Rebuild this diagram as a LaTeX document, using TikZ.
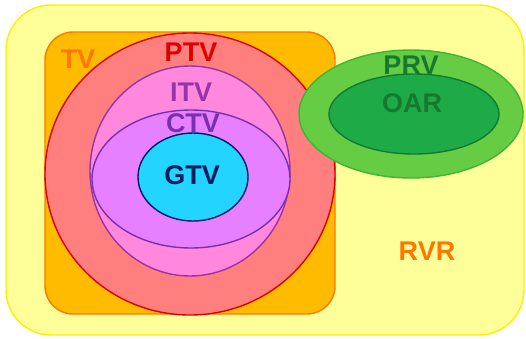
\documentclass[tikz,border=0pt]{standalone}
\usepackage{fontspec}
\setmainfont{Liberation Sans}
\usepackage{tikz}
\usetikzlibrary{backgrounds}

\definecolor{rvrfill}{HTML}{FFFF99}
\definecolor{rvrline}{HTML}{FFEE00}
\definecolor{tvfill}{HTML}{FFBB00}
\definecolor{tvline}{HTML}{FF7700}
\definecolor{ptvfill}{HTML}{FF7F7F}
\definecolor{ptvline}{HTML}{DD0000}
\definecolor{itvfill}{HTML}{FF88DD}
\definecolor{itvline}{HTML}{9933AA}
\definecolor{ctvfill}{HTML}{E680FF}
\definecolor{ctvline}{HTML}{7A2FB0}
\definecolor{gtvfill}{HTML}{22D4FF}
\definecolor{gtvline}{HTML}{001F5C}
\definecolor{prvfill}{HTML}{66CC44}
\definecolor{prvline}{HTML}{3DB535}
\definecolor{oarfill}{HTML}{1FAA48}
\definecolor{oarline}{HTML}{137A35}
\definecolor{greentext}{HTML}{167A2E}

\begin{document}
\begin{tikzpicture}[x=1pt, y=-1pt,
	region/.style={line width=1.4pt},
	lbl/.style={font=\fontsize{27}{27}\selectfont\bfseries, inner sep=0pt}]
\useasboundingbox (0,0) rectangle (526,338);
% volumes, back to front
\draw[region, draw=rvrline, fill=rvrfill, rounded corners=45pt] (6,5) rectangle (524,335);
\draw[region, draw=tvline, fill=tvfill, rounded corners=28pt] (45,32) rectangle (335,314);
\draw[region, draw=ptvline, fill=ptvfill] (190,174) ellipse [x radius=145, y radius=141];
\draw[region, draw=itvline, fill=itvfill] (190,171) ellipse [x radius=100, y radius=105];
\draw[region, draw=ctvline, fill=ctvfill] (191,179) ellipse [x radius=99, y radius=69];
\draw[region, draw=gtvline, fill=gtvfill] (193,177) ellipse [x radius=55, y radius=44];
\draw[region, draw=prvline, fill=prvfill] (411,114) ellipse [x radius=112, y radius=64];
\draw[region, draw=oarline, fill=oarfill] (414,114) ellipse [x radius=85, y radius=40];
% labels
\node[lbl, text=tvline] (tv) at (78,59) {TV};
\node[lbl, text=ptvline] (ptv) at (191,52) {PTV};
\node[lbl, text=itvline] (itv) at (191,92) {ITV};
\node[lbl, text=ctvline] (ctv) at (193,123) {CTV};
\node[lbl, text=gtvline] (gtv) at (192,175) {GTV};
\node[lbl, text=greentext] (prv) at (411,65) {PRV};
\node[lbl, text=greentext] (oar) at (412,103) {OAR};
\node[lbl, text=tvline] (rvr) at (427,251) {RVR};
\end{tikzpicture}
\end{document}
